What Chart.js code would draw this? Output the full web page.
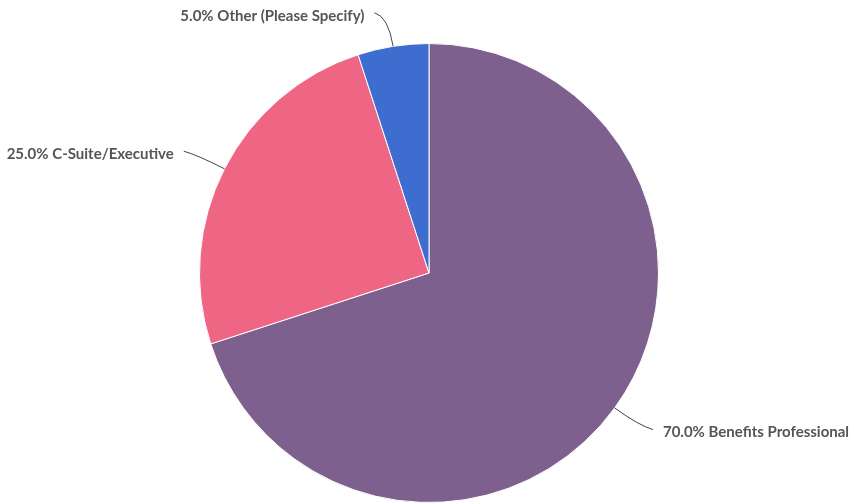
<!DOCTYPE html>
<html>
<head>
<meta charset="utf-8">
<script src="https://cdn.jsdelivr.net/npm/chart.js@4"></script>
<style>
    html, body { margin: 0; padding: 0; background: #fff; }
    #wrap { position: relative; width: 853px; height: 503px; }
</style>
</head>
<body>
<div id="wrap"><canvas id="roleChart"></canvas></div>
<script>
const roleLabels = ['Benefits Professional', 'C-Suite/Executive', 'Other (Please Specify)'];
const roleShares = [70.0, 25.0, 5.0];
const sliceColours = ['#7d608d', '#ef6584', '#3d6ecf'];

// Draws the "xx.x% Label" callouts with a curved leader line from each slice
const calloutPlugin = {
    id: 'callouts',
    afterDatasetsDraw(chart) {
        const ctx = chart.ctx;
        const meta = chart.getDatasetMeta(0);
        ctx.save();
        ctx.font = 'bold 15px Lato';
        ctx.fillStyle = '#555';
        ctx.strokeStyle = '#444';
        ctx.lineWidth = 1;
        ctx.textBaseline = 'middle';

        meta.data.forEach((arc, i) => {
            const mid = (arc.startAngle + arc.endAngle) / 2;
            const dx = Math.cos(mid);
            const dy = Math.sin(mid);
            const r = arc.outerRadius;
            const sx = arc.x + dx * r;
            const sy = arc.y + dy * r;
            const cx = arc.x + dx * (r + 30);
            const cy = arc.y + dy * (r + 30);
            const side = dx >= 0 ? 1 : -1;
            const ex = cx + side * 14;
            const ey = cy + (dy >= 0 ? 4 : -4);

            ctx.beginPath();
            ctx.moveTo(sx, sy);
            ctx.quadraticCurveTo(cx, cy, ex, ey);
            ctx.stroke();

            const text = `${roleShares[i].toFixed(1)}% ${roleLabels[i]}`;
            ctx.textAlign = side > 0 ? 'left' : 'right';
            ctx.fillText(text, ex + side * 10, ey + 3);
        });
        ctx.restore();
    },
};

const ctx = document.querySelector('#roleChart').getContext('2d');
new Chart(ctx, {
    type: 'pie',
    data: {
        labels: roleLabels,
        datasets: [{
            data: roleShares,
            backgroundColor: sliceColours,
            borderColor: '#fff',
            borderWidth: 1,
        }],
    },
    options: {
        responsive: true,
        maintainAspectRatio: false,
        animation: false,
        layout: {
            padding: { top: 43, bottom: 0, left: 5, right: 0 },
        },
        plugins: {
            legend: { display: false },
            tooltip: { enabled: false },
        },
    },
    plugins: [calloutPlugin],
});
</script>
</body>
</html>
